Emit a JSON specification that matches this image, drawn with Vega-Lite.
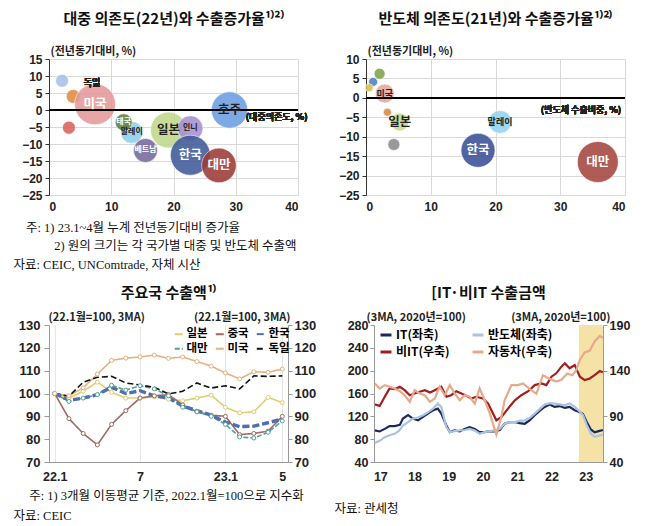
{
 "$schema": "https://vega.github.io/schema/vega-lite/v6.json",
 "background": "white",
 "padding": {"left": 13, "top": 12, "right": 4, "bottom": 0},
 "usermeta": {"embedOptions": {"actions": false}},
 "config": {
  "font": "Noto Sans CJK KR",
  "view": {"stroke": null},
  "axis": {"labelFont": "Liberation Sans", "labelFontWeight": "bold", "labelFontSize": 12, "labelColor": "#222", "labelOverlap": false, "tickCount": 30, "domainColor": "#555", "tickColor": "#555", "gridColor": "#d9d9d9", "titleFont": "Noto Sans CJK KR", "titleFontWeight": "bold", "titleFontSize": 11, "titleColor": "#222", "titleLimit": 1000},
  "title": {"font": "Noto Sans CJK KR", "fontWeight": "bold", "fontSize": 15, "color": "#111"}
 },
 "datasets": {
  "tl": [
   {"name": "기타A", "dep": 2.1, "gr": 8.6, "exp": 42},
   {"name": "독일", "dep": 3.9, "gr": 4.0, "exp": 49},
   {"name": "미국", "dep": 7.4, "gr": 1.7, "exp": 420},
   {"name": "기타B", "dep": 3.2, "gr": -5.2, "exp": 42},
   {"name": "말레이", "dep": 13.3, "gr": -6.6, "exp": 121},
   {"name": "태국", "dep": 12.0, "gr": -3.6, "exp": 72},
   {"name": "베트남", "dep": 15.5, "gr": -11.9, "exp": 144},
   {"name": "일본", "dep": 19.2, "gr": -5.9, "exp": 324},
   {"name": "인니", "dep": 22.7, "gr": -5.4, "exp": 160},
   {"name": "한국", "dep": 22.7, "gr": -13.3, "exp": 400},
   {"name": "대만", "dep": 27.3, "gr": -16.3, "exp": 300},
   {"name": "호주", "dep": 29.0, "gr": 0.0, "exp": 330}
  ],
  "tr": [
   {"name": "기타C", "dep": 2.1, "gr": 6.2, "exp": 30},
   {"name": "기타D", "dep": 1.1, "gr": 4.1, "exp": 20},
   {"name": "기타E", "dep": 0.5, "gr": 2.6, "exp": 16},
   {"name": "미국", "dep": 2.9, "gr": 1.1, "exp": 90},
   {"name": "기타F", "dep": 3.3, "gr": -3.7, "exp": 16},
   {"name": "일본", "dep": 5.2, "gr": -6.2, "exp": 81},
   {"name": "기타G", "dep": 4.3, "gr": -12.0, "exp": 36},
   {"name": "말레이", "dep": 20.7, "gr": -6.2, "exp": 132},
   {"name": "한국", "dep": 17.3, "gr": -13.5, "exp": 289},
   {"name": "대만", "dep": 35.8, "gr": -16.5, "exp": 420}
  ],
  "bl": [
   {"m":0,"c":"일본","v":100},{"m":1,"c":"일본","v":98},{"m":2,"c":"일본","v":101},{"m":3,"c":"일본","v":105},{"m":4,"c":"일본","v":100.5},{"m":5,"c":"일본","v":98},{"m":6,"c":"일본","v":98},{"m":7,"c":"일본","v":98.5},{"m":8,"c":"일본","v":97.5},{"m":9,"c":"일본","v":96.8},{"m":10,"c":"일본","v":98},{"m":11,"c":"일본","v":99.3},{"m":12,"c":"일본","v":94},{"m":13,"c":"일본","v":91.5},{"m":14,"c":"일본","v":92},{"m":15,"c":"일본","v":98.3},{"m":16,"c":"일본","v":96},
   {"m":0,"c":"중국","v":100},{"m":1,"c":"중국","v":89},{"m":2,"c":"중국","v":82.5},{"m":3,"c":"중국","v":77.5},{"m":4,"c":"중국","v":86.5},{"m":5,"c":"중국","v":92.5},{"m":6,"c":"중국","v":98},{"m":7,"c":"중국","v":99},{"m":8,"c":"중국","v":99.5},{"m":9,"c":"중국","v":95},{"m":10,"c":"중국","v":92},{"m":11,"c":"중국","v":90.5},{"m":12,"c":"중국","v":90},{"m":13,"c":"중국","v":82},{"m":14,"c":"중국","v":82.5},{"m":15,"c":"중국","v":83.5},{"m":16,"c":"중국","v":90},
   {"m":0,"c":"한국","v":100},{"m":1,"c":"한국","v":97},{"m":2,"c":"한국","v":98},{"m":3,"c":"한국","v":99.5},{"m":4,"c":"한국","v":102.7},{"m":5,"c":"한국","v":100},{"m":6,"c":"한국","v":101.2},{"m":7,"c":"한국","v":99},{"m":8,"c":"한국","v":98},{"m":9,"c":"한국","v":94.5},{"m":10,"c":"한국","v":92.5},{"m":11,"c":"한국","v":90.5},{"m":12,"c":"한국","v":87.5},{"m":13,"c":"한국","v":85.5},{"m":14,"c":"한국","v":85.7},{"m":15,"c":"한국","v":87.2},{"m":16,"c":"한국","v":88.8},
   {"m":0,"c":"대만","v":100},{"m":1,"c":"대만","v":96.5},{"m":2,"c":"대만","v":98},{"m":3,"c":"대만","v":99.5},{"m":4,"c":"대만","v":103.6},{"m":5,"c":"대만","v":101.5},{"m":6,"c":"대만","v":103.4},{"m":7,"c":"대만","v":102},{"m":8,"c":"대만","v":99},{"m":9,"c":"대만","v":94},{"m":10,"c":"대만","v":92},{"m":11,"c":"대만","v":90},{"m":12,"c":"대만","v":86.5},{"m":13,"c":"대만","v":81},{"m":14,"c":"대만","v":80.5},{"m":15,"c":"대만","v":83},{"m":16,"c":"대만","v":88},
   {"m":0,"c":"미국","v":100},{"m":1,"c":"미국","v":99},{"m":2,"c":"미국","v":102.5},{"m":3,"c":"미국","v":108.5},{"m":4,"c":"미국","v":114.5},{"m":5,"c":"미국","v":115.5},{"m":6,"c":"미국","v":116},{"m":7,"c":"미국","v":116.8},{"m":8,"c":"미국","v":115.4},{"m":9,"c":"미국","v":116},{"m":10,"c":"미국","v":114},{"m":11,"c":"미국","v":112},{"m":12,"c":"미국","v":109},{"m":13,"c":"미국","v":106.4},{"m":14,"c":"미국","v":109.5},{"m":15,"c":"미국","v":109.3},{"m":16,"c":"미국","v":110.7},
   {"m":0,"c":"독일","v":100},{"m":1,"c":"독일","v":98.8},{"m":2,"c":"독일","v":104.9},{"m":3,"c":"독일","v":107.1},{"m":4,"c":"독일","v":107.5},{"m":5,"c":"독일","v":104.6},{"m":6,"c":"독일","v":103.7},{"m":7,"c":"독일","v":102.7},{"m":8,"c":"독일","v":99.8},{"m":9,"c":"독일","v":101},{"m":10,"c":"독일","v":104.6},{"m":11,"c":"독일","v":102.4},{"m":12,"c":"독일","v":103.4},{"m":13,"c":"독일","v":102},{"m":14,"c":"독일","v":107.7},{"m":15,"c":"독일","v":107.5},{"m":16,"c":"독일","v":107.7}
  ],
  "br": [
   {"t":2016.84,"s":"IT(좌축)","v":95.3},{"t":2016.98,"s":"IT(좌축)","v":93.5},{"t":2017.13,"s":"IT(좌축)","v":98},{"t":2017.27,"s":"IT(좌축)","v":103},{"t":2017.42,"s":"IT(좌축)","v":103},{"t":2017.57,"s":"IT(좌축)","v":105},{"t":2017.66,"s":"IT(좌축)","v":116},{"t":2017.81,"s":"IT(좌축)","v":122},{"t":2017.95,"s":"IT(좌축)","v":116},{"t":2018.10,"s":"IT(좌축)","v":113},{"t":2018.25,"s":"IT(좌축)","v":119},{"t":2018.39,"s":"IT(좌축)","v":124.7},{"t":2018.54,"s":"IT(좌축)","v":130.6},{"t":2018.68,"s":"IT(좌축)","v":133.5},{"t":2018.78,"s":"IT(좌축)","v":124.7},{"t":2018.93,"s":"IT(좌축)","v":104},{"t":2019.03,"s":"IT(좌축)","v":92.4},{"t":2019.17,"s":"IT(좌축)","v":95.3},{"t":2019.32,"s":"IT(좌축)","v":93.5},{"t":2019.46,"s":"IT(좌축)","v":98},{"t":2019.61,"s":"IT(좌축)","v":101},{"t":2019.76,"s":"IT(좌축)","v":98},{"t":2019.90,"s":"IT(좌축)","v":92.4},{"t":2020.05,"s":"IT(좌축)","v":92.4},{"t":2020.20,"s":"IT(좌축)","v":94},{"t":2020.34,"s":"IT(좌축)","v":93.5},{"t":2020.49,"s":"IT(좌축)","v":96},{"t":2020.63,"s":"IT(좌축)","v":107},{"t":2020.78,"s":"IT(좌축)","v":110},{"t":2020.93,"s":"IT(좌축)","v":110},{"t":2021.07,"s":"IT(좌축)","v":108},{"t":2021.22,"s":"IT(좌축)","v":107},{"t":2021.36,"s":"IT(좌축)","v":113},{"t":2021.51,"s":"IT(좌축)","v":122},{"t":2021.66,"s":"IT(좌축)","v":130},{"t":2021.80,"s":"IT(좌축)","v":136.5},{"t":2021.95,"s":"IT(좌축)","v":140.6},{"t":2022.09,"s":"IT(좌축)","v":136.5},{"t":2022.24,"s":"IT(좌축)","v":138},{"t":2022.39,"s":"IT(좌축)","v":134.7},{"t":2022.53,"s":"IT(좌축)","v":136.5},{"t":2022.68,"s":"IT(좌축)","v":130.6},{"t":2022.83,"s":"IT(좌축)","v":127},{"t":2022.92,"s":"IT(좌축)","v":124},{"t":2023.03,"s":"IT(좌축)","v":110},{"t":2023.15,"s":"IT(좌축)","v":97},{"t":2023.26,"s":"IT(좌축)","v":92},{"t":2023.38,"s":"IT(좌축)","v":94},{"t":2023.50,"s":"IT(좌축)","v":96},
   {"t":2016.84,"s":"반도체(좌축)","v":73.5},{"t":2016.98,"s":"반도체(좌축)","v":77},{"t":2017.13,"s":"반도체(좌축)","v":83.5},{"t":2017.27,"s":"반도체(좌축)","v":87},{"t":2017.42,"s":"반도체(좌축)","v":89.4},{"t":2017.55,"s":"반도체(좌축)","v":95},{"t":2017.66,"s":"반도체(좌축)","v":104},{"t":2017.81,"s":"반도체(좌축)","v":110},{"t":2017.95,"s":"반도체(좌축)","v":116},{"t":2018.10,"s":"반도체(좌축)","v":118},{"t":2018.25,"s":"반도체(좌축)","v":122},{"t":2018.39,"s":"반도체(좌축)","v":127},{"t":2018.54,"s":"반도체(좌축)","v":133.5},{"t":2018.68,"s":"반도체(좌축)","v":142.4},{"t":2018.78,"s":"반도체(좌축)","v":136.5},{"t":2018.93,"s":"반도체(좌축)","v":101},{"t":2019.03,"s":"반도체(좌축)","v":92.4},{"t":2019.17,"s":"반도체(좌축)","v":94},{"t":2019.32,"s":"반도체(좌축)","v":95.3},{"t":2019.46,"s":"반도체(좌축)","v":96},{"t":2019.61,"s":"반도체(좌축)","v":98},{"t":2019.76,"s":"반도체(좌축)","v":95},{"t":2019.90,"s":"반도체(좌축)","v":89.4},{"t":2020.05,"s":"반도체(좌축)","v":92.4},{"t":2020.20,"s":"반도체(좌축)","v":94},{"t":2020.34,"s":"반도체(좌축)","v":95.3},{"t":2020.49,"s":"반도체(좌축)","v":98},{"t":2020.63,"s":"반도체(좌축)","v":107},{"t":2020.78,"s":"반도체(좌축)","v":110},{"t":2020.93,"s":"반도체(좌축)","v":110},{"t":2021.07,"s":"반도체(좌축)","v":112},{"t":2021.22,"s":"반도체(좌축)","v":113},{"t":2021.36,"s":"반도체(좌축)","v":117},{"t":2021.51,"s":"반도체(좌축)","v":124.7},{"t":2021.66,"s":"반도체(좌축)","v":133},{"t":2021.80,"s":"반도체(좌축)","v":140.6},{"t":2021.95,"s":"반도체(좌축)","v":143},{"t":2022.09,"s":"반도체(좌축)","v":142.4},{"t":2022.24,"s":"반도체(좌축)","v":141},{"t":2022.39,"s":"반도체(좌축)","v":139.4},{"t":2022.53,"s":"반도체(좌축)","v":142.4},{"t":2022.68,"s":"반도체(좌축)","v":136.5},{"t":2022.83,"s":"반도체(좌축)","v":128},{"t":2022.92,"s":"반도체(좌축)","v":122},{"t":2023.03,"s":"반도체(좌축)","v":105},{"t":2023.15,"s":"반도체(좌축)","v":90},{"t":2023.26,"s":"반도체(좌축)","v":84},{"t":2023.38,"s":"반도체(좌축)","v":86},{"t":2023.50,"s":"반도체(좌축)","v":88},
   {"t":2016.84,"s":"비IT(우축)","v":103},{"t":2016.98,"s":"비IT(우축)","v":101.4},{"t":2017.13,"s":"비IT(우축)","v":111.4},{"t":2017.27,"s":"비IT(우축)","v":120.5},{"t":2017.42,"s":"비IT(우축)","v":119.8},{"t":2017.57,"s":"비IT(우축)","v":122.4},{"t":2017.71,"s":"비IT(우축)","v":118.6},{"t":2017.86,"s":"비IT(우축)","v":113.1},{"t":2018.00,"s":"비IT(우축)","v":115},{"t":2018.15,"s":"비IT(우축)","v":116.9},{"t":2018.30,"s":"비IT(우축)","v":118.6},{"t":2018.45,"s":"비IT(우축)","v":116.1},{"t":2018.59,"s":"비IT(우축)","v":118.6},{"t":2018.78,"s":"비IT(우축)","v":122.4},{"t":2018.93,"s":"비IT(우축)","v":111.4},{"t":2019.07,"s":"비IT(우축)","v":113.1},{"t":2019.22,"s":"비IT(우축)","v":117.5},{"t":2019.37,"s":"비IT(우축)","v":115},{"t":2019.51,"s":"비IT(우축)","v":112.5},{"t":2019.66,"s":"비IT(우축)","v":109.5},{"t":2019.80,"s":"비IT(우축)","v":111.4},{"t":2020.00,"s":"비IT(우축)","v":109.5},{"t":2020.15,"s":"비IT(우축)","v":104},{"t":2020.27,"s":"비IT(우축)","v":94.8},{"t":2020.39,"s":"비IT(우축)","v":85.6},{"t":2020.54,"s":"비IT(우축)","v":89.3},{"t":2020.73,"s":"비IT(우축)","v":98.5},{"t":2020.93,"s":"비IT(우축)","v":107.6},{"t":2021.12,"s":"비IT(우축)","v":113.1},{"t":2021.32,"s":"비IT(우축)","v":117.5},{"t":2021.51,"s":"비IT(우축)","v":124.2},{"t":2021.71,"s":"비IT(우축)","v":126},{"t":2021.85,"s":"비IT(우축)","v":124.2},{"t":2022.00,"s":"비IT(우축)","v":133.4},{"t":2022.14,"s":"비IT(우축)","v":137.1},{"t":2022.29,"s":"비IT(우축)","v":144.4},{"t":2022.39,"s":"비IT(우축)","v":148.1},{"t":2022.53,"s":"비IT(우축)","v":142.6},{"t":2022.68,"s":"비IT(우축)","v":146.2},{"t":2022.83,"s":"비IT(우축)","v":133.4},{"t":2022.97,"s":"비IT(우축)","v":129.7},{"t":2023.12,"s":"비IT(우축)","v":131.5},{"t":2023.26,"s":"비IT(우축)","v":135.2},{"t":2023.41,"s":"비IT(우축)","v":139.6},{"t":2023.50,"s":"비IT(우축)","v":138.2},
   {"t":2016.84,"s":"자동차(우축)","v":126},{"t":2016.98,"s":"자동차(우축)","v":120.5},{"t":2017.13,"s":"자동차(우축)","v":124.2},{"t":2017.27,"s":"자동차(우축)","v":122.4},{"t":2017.42,"s":"자동차(우축)","v":120.5},{"t":2017.57,"s":"자동차(우축)","v":117.5},{"t":2017.71,"s":"자동차(우축)","v":113.1},{"t":2017.86,"s":"자동차(우축)","v":105.9},{"t":2018.00,"s":"자동차(우축)","v":118.6},{"t":2018.15,"s":"자동차(우축)","v":115},{"t":2018.30,"s":"자동차(우축)","v":113.1},{"t":2018.45,"s":"자동차(우축)","v":105.9},{"t":2018.59,"s":"자동차(우축)","v":109.5},{"t":2018.73,"s":"자동차(우축)","v":122.4},{"t":2018.88,"s":"자동차(우축)","v":113.1},{"t":2019.03,"s":"자동차(우축)","v":124.2},{"t":2019.17,"s":"자동차(우축)","v":115},{"t":2019.32,"s":"자동차(우축)","v":107.6},{"t":2019.46,"s":"자동차(우축)","v":113.1},{"t":2019.61,"s":"자동차(우축)","v":111.4},{"t":2019.76,"s":"자동차(우축)","v":104},{"t":2019.90,"s":"자동차(우축)","v":120.5},{"t":2020.05,"s":"자동차(우축)","v":107.6},{"t":2020.20,"s":"자동차(우축)","v":93},{"t":2020.39,"s":"자동차(우축)","v":70},{"t":2020.54,"s":"자동차(우축)","v":90},{"t":2020.63,"s":"자동차(우축)","v":107.6},{"t":2020.83,"s":"자동차(우축)","v":124.2},{"t":2021.02,"s":"자동차(우축)","v":124.2},{"t":2021.17,"s":"자동차(우축)","v":126},{"t":2021.36,"s":"자동차(우축)","v":120},{"t":2021.56,"s":"자동차(우축)","v":114.6},{"t":2021.75,"s":"자동차(우축)","v":135},{"t":2021.95,"s":"자동차(우축)","v":131},{"t":2022.14,"s":"자동차(우축)","v":128},{"t":2022.29,"s":"자동차(우축)","v":130},{"t":2022.46,"s":"자동차(우축)","v":137},{"t":2022.61,"s":"자동차(우축)","v":135},{"t":2022.73,"s":"자동차(우축)","v":141},{"t":2022.83,"s":"자동차(우축)","v":152},{"t":2022.97,"s":"자동차(우축)","v":160},{"t":2023.12,"s":"자동차(우축)","v":162},{"t":2023.26,"s":"자동차(우축)","v":172},{"t":2023.41,"s":"자동차(우축)","v":178},{"t":2023.50,"s":"자동차(우축)","v":176}
  ]
 },
 "vconcat": [
  {
   "hconcat": [
    {
     "width": 249, "height": 136,
     "title": {"text": "대중 의존도(22년)와 수출증가율¹⁾²⁾", "offset": 18},
     "data": {"name": "tl"},
     "layer": [
      {
       "mark": {"type": "circle", "opacity": 0.88, "stroke": "#ffffff", "strokeWidth": 0.6},
       "encoding": {
        "x": {"field": "dep", "type": "quantitative", "scale": {"domain": [0, 40], "nice": false}, "axis": {"title": ["\u200b\u00a0\u00a0\u00a0\u00a0주: 1) 23.1~4월 누계 전년동기대비 증가율", "\u200b\u00a0\u00a0\u00a0\u00a0\u00a0\u00a0\u00a0\u00a0\u00a0\u00a0\u00a0\u00a0\u00a02) 원의 크기는 각 국가별 대중 및 반도체 수출액", "자료: CEIC, UNComtrade, 자체 시산"], "titleFont": "Liberation Serif, Noto Sans CJK KR", "titleFontWeight": "normal", "titleFontSize": 12.5, "titleColor": "#111", "titleAlign": "left", "titleBaseline": "top", "titleX": -36, "titleY": 26, "titleLineHeight": 18.5, "values": [0, 10, 20, 30, 40], "tickCount": 30, "labelOverlap": false, "grid": true, "domain": false, "ticks": false, "labelPadding": 6}},
        "y": {"field": "gr", "type": "quantitative", "scale": {"domain": [-25, 15], "nice": false}, "axis": {"title": "(전년동기대비, %)", "values": [-25, -20, -15, -10, -5, 0, 5, 10, 15], "tickCount": 30, "labelOverlap": false, "grid": true, "domain": true, "domainColor": "#333", "tickColor": "#333", "tickSize": 4, "labelPadding": 3, "titleAngle": 0, "titleAlign": "left", "titleBaseline": "bottom", "titleX": 1, "titleY": -3}},
        "size": {"field": "exp", "type": "quantitative", "scale": {"type": "linear", "domain": [0, 400], "range": [0, 1600]}, "legend": null},
        "color": {"field": "name", "type": "nominal", "scale": {"domain": ["기타A", "독일", "미국", "기타B", "말레이", "태국", "베트남", "일본", "인니", "한국", "대만", "호주"], "range": ["#a8c0e8", "#df8d42", "#e4999a", "#d8625c", "#8ed0ea", "#62803a", "#76699a", "#bfd88a", "#a78fd0", "#3f5b99", "#9c3b36", "#6d9ee3"]}, "legend": null}
       }
      },
      {
       "mark": {"type": "rule", "color": "#000", "strokeWidth": 1.5},
       "encoding": {"y": {"datum": 0}}
      },
      {
       "transform": [{"filter": "indexof(datum.name, '기타') < 0 && datum.name != '독일'"}],
       "mark": {"type": "text", "fontWeight": "bold", "font": "Noto Sans CJK KR"},
       "encoding": {
        "x": {"field": "dep", "type": "quantitative"},
        "y": {"field": "gr", "type": "quantitative"},
        "text": {"field": "name"},
        "color": {"condition": {"test": "indexof(['일본','호주','말레이','인니'], datum.name) >= 0", "value": "#222222"}, "value": "#ffffff"},
        "size": {"condition": {"test": "indexof(['태국','말레이','베트남','인니'], datum.name) >= 0", "value": 8}, "value": 12.5}
       }
      },
      {
       "mark": {"type": "text", "fontWeight": "bold", "fontSize": 9, "color": "#222", "font": "Noto Sans CJK KR"},
       "encoding": {"x": {"datum": 6.9}, "y": {"datum": 7.9}, "text": {"value": "독일"}}
      },
      {
       "mark": {"type": "text", "fontWeight": "bold", "fontSize": 9, "color": "#222", "align": "left", "font": "Noto Sans CJK KR"},
       "encoding": {"x": {"datum": 31.6}, "y": {"datum": -2.2}, "text": {"value": "(대중의존도, %)"}}
      }
     ]
    },
    {
     "width": 259, "height": 136,
     "title": {"text": "반도체 의존도(21년)와 수출증가율¹⁾²⁾", "offset": 18},
     "data": {"name": "tr"},
     "layer": [
      {
       "mark": {"type": "circle", "opacity": 0.88, "stroke": "#ffffff", "strokeWidth": 0.6},
       "encoding": {
        "x": {"field": "dep", "type": "quantitative", "scale": {"domain": [0, 40], "nice": false}, "axis": {"title": null, "values": [0, 10, 20, 30, 40], "tickCount": 30, "labelOverlap": false, "grid": true, "domain": false, "ticks": false, "labelPadding": 6}},
        "y": {"field": "gr", "type": "quantitative", "scale": {"domain": [-25, 10], "nice": false}, "axis": {"title": "(전년동기대비, %)", "values": [-25, -20, -15, -10, -5, 0, 5, 10], "tickCount": 30, "labelOverlap": false, "grid": true, "domain": true, "domainColor": "#333", "tickColor": "#333", "tickSize": 4, "labelPadding": 3, "titleAngle": 0, "titleAlign": "left", "titleBaseline": "bottom", "titleX": 1, "titleY": -3}},
        "size": {"field": "exp", "type": "quantitative", "scale": {"type": "linear", "domain": [0, 400], "range": [0, 1600]}, "legend": null},
        "color": {"field": "name", "type": "nominal", "scale": {"domain": ["기타C", "기타D", "기타E", "미국", "기타F", "일본", "기타G", "말레이", "한국", "대만"], "range": ["#7ea24a", "#4f80c6", "#d9c04e", "#e7a7a0", "#d8893f", "#c5dc8c", "#8c8c8c", "#92d4ee", "#3b4f96", "#a54640"]}, "legend": null}
       }
      },
      {
       "mark": {"type": "rule", "color": "#000", "strokeWidth": 1.5},
       "encoding": {"y": {"datum": 0}}
      },
      {
       "transform": [{"filter": "indexof(datum.name, '기타') < 0"}],
       "mark": {"type": "text", "fontWeight": "bold", "font": "Noto Sans CJK KR"},
       "encoding": {
        "x": {"field": "dep", "type": "quantitative"},
        "y": {"field": "gr", "type": "quantitative"},
        "text": {"field": "name"},
        "color": {"condition": {"test": "indexof(['미국','일본','말레이'], datum.name) >= 0", "value": "#222222"}, "value": "#ffffff"},
        "size": {"condition": {"test": "indexof(['미국','말레이'], datum.name) >= 0", "value": 9}, "value": 12.5}
       }
      },
      {
       "mark": {"type": "text", "fontWeight": "bold", "fontSize": 9, "color": "#222", "align": "left", "font": "Noto Sans CJK KR"},
       "encoding": {"x": {"datum": 27.0}, "y": {"datum": -3.0}, "text": {"value": "(반도체 수출비중, %)"}}
      }
     ]
    }
   ],
   "spacing": 68,
   "bounds": "flush",
   "resolve": {"scale": {"color": "independent", "size": "independent"}}
  },
  {
   "hconcat": [
    {
     "width": 239, "height": 137,
     "title": {"text": "주요국 수출액¹⁾", "offset": 10},
     "data": {"name": "bl"},
     "layer": [
      {
       "mark": {"type": "line", "strokeWidth": 1.6},
       "encoding": {
        "x": {"field": "m", "type": "quantitative", "scale": {"domain": [-0.4, 16.4], "nice": false, "zero": false}, "axis": {"title": ["\u200b\u00a0\u00a0\u00a0\u00a0\u00a0주: 1) 3개월 이동평균 기준, 2022.1월=100으로 지수화", "자료: CEIC"], "titleFont": "Liberation Serif, Noto Sans CJK KR", "titleFontWeight": "normal", "titleFontSize": 12.5, "titleColor": "#111", "titleAlign": "left", "titleBaseline": "top", "titleX": -36, "titleY": 27, "titleLineHeight": 20, "values": [0, 6, 12, 16], "tickCount": 30, "labelOverlap": false, "labelExpr": "datum.value == 0 ? '22.1' : datum.value == 6 ? '7' : datum.value == 12 ? '23.1' : '5'", "grid": true, "gridColor": "#e6e6e6", "domain": true, "domainColor": "#999", "ticks": false, "labelPadding": 8, "labelFontSize": 12.5}},
        "y": {"field": "v", "type": "quantitative", "scale": {"domain": [70, 130], "nice": false, "zero": false}, "axis": {"orient": "left", "title": "(22.1월=100, 3MA)", "values": [70, 80, 90, 100, 110, 120, 130], "tickCount": 30, "labelOverlap": false, "grid": false, "domainColor": "#999", "tickColor": "#999", "tickSize": 5, "labelPadding": 4, "labelFontSize": 13, "titleAngle": 0, "titleAlign": "left", "titleBaseline": "bottom", "titleX": -1, "titleY": -3}},
        "color": {"field": "c", "type": "nominal", "scale": {"domain": ["일본", "중국", "한국", "대만", "미국", "독일"], "range": ["#e2cd6e", "#a06a62", "#4f6fb0", "#4fa398", "#e4b282", "#111111"]}, "legend": {"orient": "none", "legendX": 124, "legendY": 3, "columns": 3, "direction": "horizontal", "title": null, "symbolType": "stroke", "symbolSize": 64, "symbolStrokeWidth": 2, "labelFontSize": 11.5, "labelFontWeight": "bold", "labelFont": "Noto Sans CJK KR", "columnPadding": 3, "rowPadding": 2, "labelOffset": 2}},
        "strokeDash": {"field": "c", "type": "nominal", "scale": {"domain": ["일본", "중국", "한국", "대만", "미국", "독일"], "range": [[1, 0], [1, 0], [7, 3], [5, 2], [1, 0], [6, 3]]}}
       }
      },
      {
       "transform": [{"filter": "datum.c == '한국'"}],
       "mark": {"type": "line", "strokeWidth": 3.4},
       "encoding": {
        "x": {"field": "m", "type": "quantitative"},
        "y": {"field": "v", "type": "quantitative", "scale": {"domain": [70, 130], "nice": false, "zero": false}, "axis": null},
        "color": {"field": "c", "type": "nominal"},
        "strokeDash": {"field": "c", "type": "nominal"}
       }
      },
      {
       "transform": [{"filter": "indexof(['일본','중국','대만','미국'], datum.c) >= 0"}],
       "mark": {"type": "point", "filled": false, "fill": "#ffffff", "fillOpacity": 1, "size": 16, "strokeWidth": 1},
       "encoding": {
        "x": {"field": "m", "type": "quantitative"},
        "y": {"field": "v", "type": "quantitative", "scale": {"domain": [70, 130], "nice": false, "zero": false}, "axis": {"orient": "right", "title": "(22.1월=100, 3MA)", "values": [70, 80, 90, 100, 110, 120, 130], "tickCount": 30, "labelOverlap": false, "grid": false, "domainColor": "#999", "tickColor": "#999", "tickSize": 4, "labelFontSize": 13, "titleAngle": 0, "titleAlign": "right", "titleBaseline": "bottom", "titleX": 2, "titleY": -3}},
        "stroke": {"field": "c", "type": "nominal", "scale": {"domain": ["일본", "중국", "대만", "미국"], "range": ["#e2cd6e", "#a06a62", "#4fa398", "#e4b282"]}, "legend": null}
       }
      }
     ],
     "resolve": {"scale": {"y": "independent"}, "axis": {"y": "independent"}}
    },
    {
     "width": 229, "height": 137,
     "title": {"text": "[IT·비IT 수출금액", "offset": 10, "frame": "group"},
     "data": {"name": "br"},
     "layer": [
      {
       "layer": [
        {
         "data": {"values": [{}]},
         "mark": {"type": "rect", "color": "#f4e2a6"},
         "encoding": {"x": {"datum": 2022.8}, "x2": {"datum": 2023.505}, "y": {"datum": 40}, "y2": {"datum": 280}}
        },
        {
         "transform": [{"filter": "datum.s == 'IT(좌축)' || datum.s == '반도체(좌축)'"}],
         "mark": {"type": "line", "strokeWidth": 2.2},
         "encoding": {
          "x": {"field": "t", "type": "quantitative", "scale": {"domain": [2016.815, 2023.505], "nice": false, "zero": false}, "axis": {"title": "자료: 관세청", "titleFont": "Liberation Serif, Noto Sans CJK KR", "titleFontWeight": "normal", "titleFontSize": 12.5, "titleColor": "#111", "titleAlign": "left", "titleBaseline": "top", "titleX": -40, "titleY": 40, "values": [2017, 2018, 2019, 2020, 2021, 2022, 2023], "tickCount": 30, "labelOverlap": false, "format": "d", "labelExpr": "substring(datum.label, 2, 4)", "grid": false, "domain": true, "domainColor": "#999", "ticks": false, "labelPadding": 8, "labelFontSize": 12.5}},
          "y": {"field": "v", "type": "quantitative", "scale": {"domain": [40, 280], "nice": false, "zero": false}, "axis": {"orient": "left", "title": "(3MA, 2020년=100)", "values": [40, 80, 120, 160, 200, 240, 280], "tickCount": 30, "labelOverlap": false, "grid": false, "domainColor": "#999", "tickColor": "#999", "tickSize": 4, "labelFontSize": 12.5, "titleAngle": 0, "titleAlign": "left", "titleBaseline": "bottom", "titleX": -8, "titleY": -3}},
          "color": {"field": "s", "type": "nominal", "scale": {"domain": ["IT(좌축)", "반도체(좌축)", "비IT(우축)", "자동차(우축)"], "range": ["#1c275e", "#a9c3e0", "#a31d1d", "#e8a98a"]}, "legend": {"orient": "none", "legendX": 5, "legendY": 3, "columns": 2, "direction": "horizontal", "title": null, "symbolType": "stroke", "symbolSize": 120, "symbolStrokeWidth": 3, "labelFontSize": 12, "labelFontWeight": "bold", "labelFont": "Noto Sans CJK KR", "columnPadding": 16, "rowPadding": 4, "labelOffset": 3}}
         }
        }
       ]
      },
      {
       "transform": [{"filter": "datum.s == '비IT(우축)' || datum.s == '자동차(우축)'"}],
       "mark": {"type": "line", "strokeWidth": 2.2},
       "encoding": {
        "x": {"field": "t", "type": "quantitative"},
        "y": {"field": "v", "type": "quantitative", "scale": {"domain": [40, 190], "nice": false, "zero": false}, "axis": {"orient": "right", "title": "(3MA, 2020년=100)", "values": [40, 90, 140, 190], "tickCount": 30, "labelOverlap": false, "grid": false, "domainColor": "#999", "tickColor": "#999", "tickSize": 4, "labelFontSize": 12.5, "titleAngle": 0, "titleAlign": "right", "titleBaseline": "bottom", "titleX": 7, "titleY": -3}},
        "color": {"field": "s", "type": "nominal"}
       }
      }
     ],
     "resolve": {"scale": {"y": "independent"}, "axis": {"y": "independent"}}
    }
   ],
   "spacing": 86,
   "bounds": "flush",
   "resolve": {"scale": {"color": "independent", "stroke": "independent", "strokeDash": "independent"}}
  }
 ],
 "spacing": 15,
 "resolve": {"scale": {"color": "independent", "size": "independent", "stroke": "independent", "strokeDash": "independent"}}
}
